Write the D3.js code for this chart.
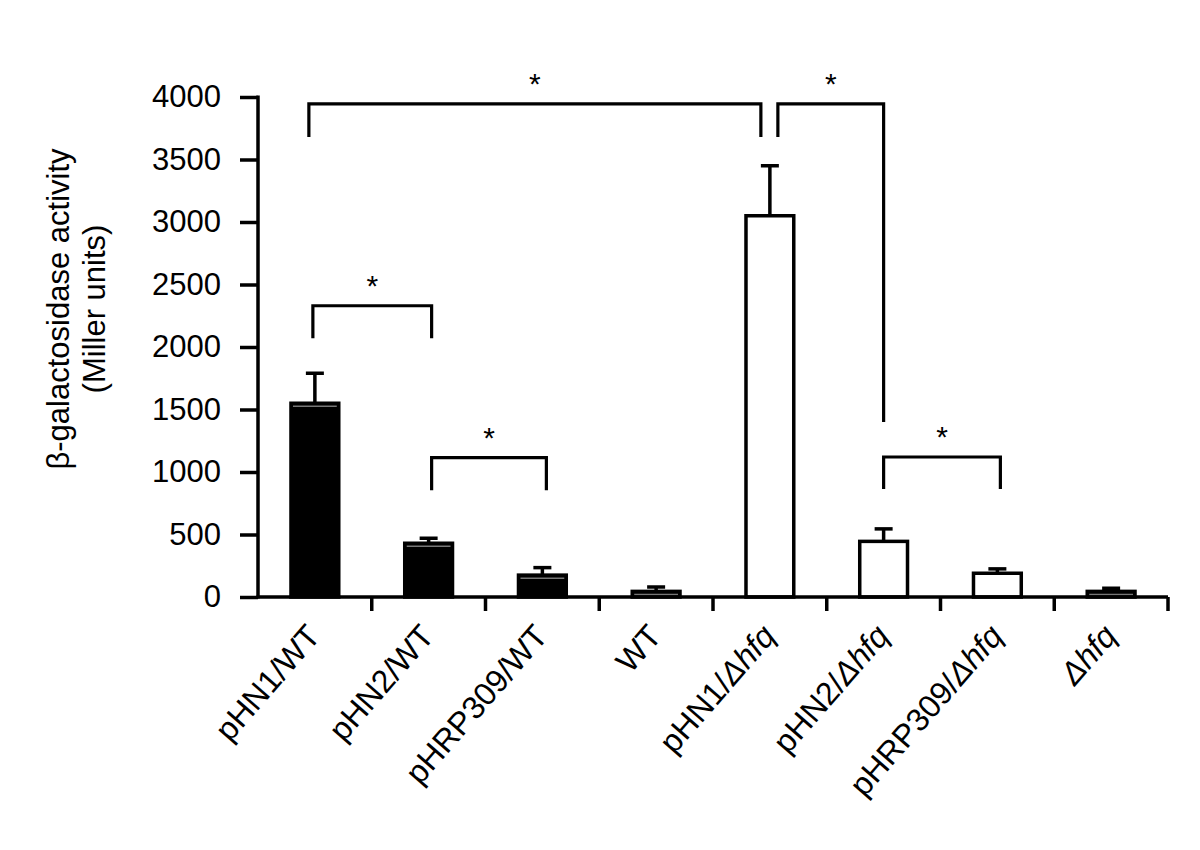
<!DOCTYPE html>
<html><head><meta charset="utf-8">
<script src="https://cdn.jsdelivr.net/npm/d3@7"></script>
<style>body{margin:0;background:#fff}svg{display:block}text{font-family:Arial,"Liberation Sans",sans-serif}</style>
</head><body><svg id="c" width="1200" height="850"></svg>
<script>
const categories = ["pHN1/WT","pHN2/WT","pHRP309/WT","WT","pHN1/\u0394hfq","pHN2/\u0394hfq","pHRP309/\u0394hfq","\u0394hfq"];
const means = [1550, 430, 175, 45, 3050, 445, 190, 45];
const errors = [240, 40, 60, 35, 400, 100, 35, 25];
const filled = [true, true, true, true, false, false, false, true];
const yTicks = [0,500,1000,1500,2000,2500,3000,3500,4000];
// significance brackets: from/to category index, top level, leg bottoms (data units)
const brackets = [
  {from:0, to:4, top:3945, bottomFrom:3680, bottomTo:3680, offFrom:-6, offTo:-9},
  {from:4, to:5, top:3945, bottomFrom:3680, bottomTo:1400, offFrom:8, offTo:0},
  {from:0, to:1, top:2330, bottomFrom:2070, bottomTo:2070, offFrom:-2, offTo:3},
  {from:1, to:2, top:1115, bottomFrom:855, bottomTo:855, offFrom:3, offTo:4},
  {from:5, to:6, top:1120, bottomFrom:865, bottomTo:865, offFrom:0, offTo:3}
];

const svg = d3.select("#c");
const m = {left:258, right:1168, top:97, bottom:597};
const x = d3.scaleBand().domain(categories).range([m.left, m.right]).paddingInner(0.58).paddingOuter(0.29);
const xb = d3.scaleBand().domain(categories).range([m.left, m.right]);
const y = d3.scaleLinear().domain([0,4000]).range([m.bottom, m.top]);

// bars
svg.append("g").selectAll("rect").data(categories).join("rect")
  .attr("x", d => x(d)).attr("width", x.bandwidth())
  .attr("y", (d,i) => y(means[i])).attr("height", (d,i) => y(0) - y(means[i]))
  .attr("fill", (d,i) => filled[i] ? "#000" : "#fff")
  .attr("stroke", "#000").attr("stroke-width", 3.5);

// error bars
const eb = svg.append("g").attr("stroke","#000").attr("stroke-width",3.5);
categories.forEach((c,i) => {
  const cx = x(c) + x.bandwidth()/2;
  if (filled[i]) eb.append("line").attr("x1",x(c)+2).attr("x2",x(c)+x.bandwidth()-2).attr("y1",y(means[i])+3).attr("y2",y(means[i])+3).attr("stroke","#777").attr("stroke-width",1.5);
  eb.append("line").attr("x1",cx).attr("x2",cx).attr("y1",y(means[i])).attr("y2",y(means[i]+errors[i]));
  eb.append("line").attr("x1",cx-9).attr("x2",cx+9).attr("y1",y(means[i]+errors[i])).attr("y2",y(means[i]+errors[i]));
});

// axes
const yAxis = d3.axisLeft(y).tickValues(yTicks).tickFormat(d3.format("d")).tickSize(18).tickPadding(19).tickSizeOuter(0);
const gy = svg.append("g").attr("transform",`translate(${m.left},0)`).call(yAxis);
gy.select(".domain").attr("stroke-width",3.5).attr("d", `M0,${m.top-1.5}V${m.bottom+1.5}`);
gy.selectAll(".tick line").attr("stroke-width",3.5);
gy.selectAll(".tick text").attr("font-size",31).attr("fill","#000").attr("font-family","Arial, 'Liberation Sans', sans-serif");

const gx = svg.append("g").attr("transform",`translate(0,${m.bottom})`);
gx.append("line").attr("x1",m.left-1.5).attr("x2",m.right).attr("y1",0).attr("y2",0).attr("stroke","#000").attr("stroke-width",3.5);
gx.selectAll("line.t").data(categories).join("line").attr("class","t")
  .attr("x1", d => xb(d)+xb.bandwidth()).attr("x2", d => xb(d)+xb.bandwidth())
  .attr("y1",0).attr("y2",14).attr("stroke","#000").attr("stroke-width",3.5);

// x labels
gx.selectAll("text.lbl").data(categories).join("text").attr("class","lbl")
  .attr("transform", d => `translate(${xb(d)+xb.bandwidth()/2+7},${40}) rotate(-49)`)
  .attr("text-anchor","end").attr("font-size",32).attr("fill","#000")
  .each(function(d){
    const t = d3.select(this);
    const k = d.indexOf("\u0394hfq");
    if (k < 0) { t.text(d); return; }
    if (k > 0) t.append("tspan").text(d.slice(0,k));
    t.append("tspan").text("\u0394hfq").attr("font-style","italic");
  });

// y title
const yt = svg.append("text").attr("transform","translate(0,309) rotate(-90)").attr("text-anchor","middle").attr("font-size",31).attr("fill","#000");
yt.append("tspan").attr("x",0).attr("y",69).text("\u03b2-galactosidase activity");
yt.append("tspan").attr("x",0).attr("y",105).text("(Miller units)");

// brackets
const gb = svg.append("g");
brackets.forEach(b => {
  const x1 = xb(categories[b.from]) + xb.bandwidth()/2 + b.offFrom;
  const x2 = xb(categories[b.to]) + xb.bandwidth()/2 + b.offTo;
  gb.append("path").attr("fill","none").attr("stroke","#000").attr("stroke-width",3.2)
    .attr("d", `M${x1},${y(b.bottomFrom)}V${y(b.top)}H${x2}V${y(b.bottomTo)}`);
  gb.append("text").attr("x",(x1+x2)/2).attr("y",y(b.top)-10).attr("text-anchor","middle")
    .attr("font-size",30).attr("fill","#000").text("*");
});
</script></body></html>
